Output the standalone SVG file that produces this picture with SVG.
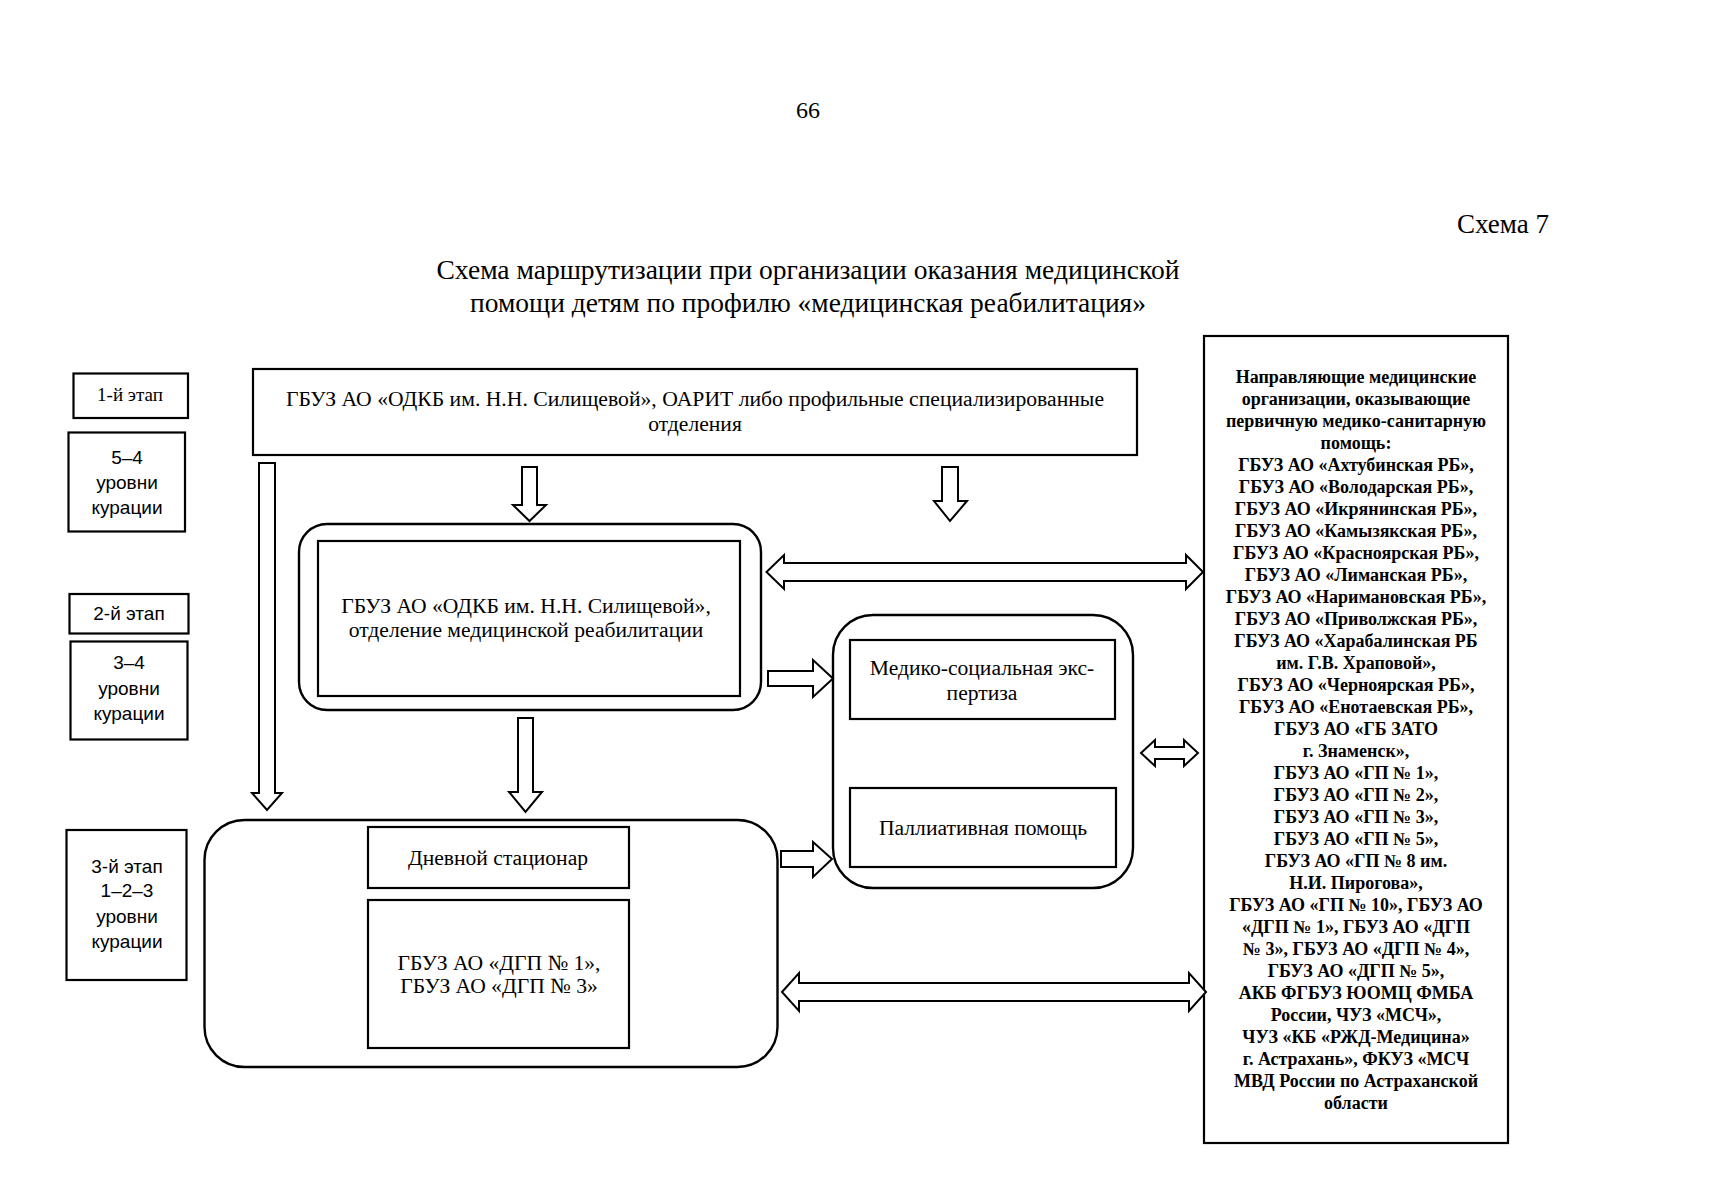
<svg xmlns="http://www.w3.org/2000/svg" width="1712" height="1200" viewBox="0 0 1712 1200">
<style>
.bg{fill:#ffffff}
.box{fill:#ffffff;stroke:#000;stroke-width:2.2}
.rbox{fill:none;stroke:#000;stroke-width:2.4}
.arr{fill:#ffffff;stroke:#000;stroke-width:2;stroke-linejoin:miter}
.t{font-family:"Liberation Serif","Times New Roman",serif;fill:#000;text-anchor:middle}
.s{font-family:"Liberation Sans",Arial,sans-serif;fill:#000;text-anchor:middle}
.r{font-size:21.6px}
.b{font-weight:bold;font-size:18px}
</style>
<rect class="bg" x="0" y="0" width="1712" height="1200"/>
<g id="header">
<text class="t" x="808" y="118" font-size="24">66</text>
<text class="t" x="1503" y="233" font-size="27">Схема 7</text>
<text class="t" x="808" y="279" font-size="27" textLength="743" lengthAdjust="spacingAndGlyphs">Схема маршрутизации при организации оказания медицинской</text>
<text class="t" x="808" y="312" font-size="27" textLength="676" lengthAdjust="spacingAndGlyphs">помощи детям по профилю «медицинская реабилитация»</text>
</g>
<g id="stage1">
<rect class="box" x="73.5" y="373.5" width="114.5" height="44.5"/>
<text class="t" x="130" y="401" font-size="19">1-й этап</text>
</g>
<g id="levels54">
<rect class="box" x="68.5" y="432.5" width="116.5" height="99"/>
<text class="s" x="127" y="464" font-size="19">5–4</text>
<text class="s" x="127" y="489" font-size="19">уровни</text>
<text class="s" x="127" y="514" font-size="19">курации</text>
</g>
<g id="stage2">
<rect class="box" x="69.5" y="594" width="119" height="39.5"/>
<text class="s" x="129" y="620" font-size="19">2-й этап</text>
</g>
<g id="levels34">
<rect class="box" x="70.5" y="641.5" width="117" height="98"/>
<text class="s" x="129" y="669" font-size="19">3–4</text>
<text class="s" x="129" y="695" font-size="19">уровни</text>
<text class="s" x="129" y="720" font-size="19">курации</text>
</g>
<g id="stage3">
<rect class="box" x="66.5" y="830" width="120" height="150"/>
<text class="s" x="127" y="873" font-size="19">3-й этап</text>
<text class="s" x="127" y="897" font-size="19">1–2–3</text>
<text class="s" x="127" y="923" font-size="19">уровни</text>
<text class="s" x="127" y="948" font-size="19">курации</text>
</g>
<g id="top-node">
<rect class="box" x="253" y="369" width="884" height="86"/>
<text class="t r" x="695" y="406" textLength="818" lengthAdjust="spacingAndGlyphs">ГБУЗ АО «ОДКБ им. Н.Н. Силищевой», ОАРИТ либо профильные специализированные</text>
<text class="t r" x="695" y="431">отделения</text>
</g>
<g id="odkb-rehab">
<rect class="rbox" x="299" y="524" width="462" height="186" rx="28" ry="28"/>
<rect class="box" x="318" y="541" width="422" height="155"/>
<text class="t r" x="526" y="613">ГБУЗ АО «ОДКБ им. Н.Н. Силищевой»,</text>
<text class="t r" x="526" y="637">отделение медицинской реабилитации</text>
</g>
<g id="mse-group">
<rect class="rbox" x="833" y="615" width="300" height="273" rx="40" ry="40"/>
<g id="mse">
<rect class="box" x="850" y="640" width="265" height="79"/>
<text class="t r" x="982" y="675">Медико-социальная экс-</text>
<text class="t r" x="982" y="700">пертиза</text>
</g>
<g id="palliative">
<rect class="box" x="850" y="788" width="266" height="79"/>
<text class="t r" x="983" y="835">Паллиативная помощь</text>
</g>
</g>
<g id="outpatient-group">
<rect class="rbox" x="204.5" y="820" width="573" height="247" rx="40" ry="40"/>
<g id="day-hospital">
<rect class="box" x="368" y="827" width="261" height="61"/>
<text class="t r" x="498" y="865">Дневной стационар</text>
</g>
<g id="dgp">
<rect class="box" x="368" y="900" width="261" height="148"/>
<text class="t r" x="499" y="970">ГБУЗ АО «ДГП № 1»,</text>
<text class="t r" x="499" y="993">ГБУЗ АО «ДГП № 3»</text>
</g>
</g>
<g id="referring-orgs">
<rect class="box" x="1204" y="336" width="304" height="807"/>
<g class="t b">
<text x="1356" y="383">Направляющие медицинские</text>
<text x="1356" y="405">организации, оказывающие</text>
<text x="1356" y="427">первичную медико-санитарную</text>
<text x="1356" y="449">помощь:</text>
<text x="1356" y="471">ГБУЗ АО «Ахтубинская РБ»,</text>
<text x="1356" y="493">ГБУЗ АО «Володарская РБ»,</text>
<text x="1356" y="515">ГБУЗ АО «Икрянинская РБ»,</text>
<text x="1356" y="537">ГБУЗ АО «Камызякская РБ»,</text>
<text x="1356" y="559">ГБУЗ АО «Красноярская РБ»,</text>
<text x="1356" y="581">ГБУЗ АО «Лиманская РБ»,</text>
<text x="1356" y="603">ГБУЗ АО «Наримановская РБ»,</text>
<text x="1356" y="625">ГБУЗ АО «Приволжская РБ»,</text>
<text x="1356" y="647">ГБУЗ АО «Харабалинская РБ</text>
<text x="1356" y="669">им. Г.В. Храповой»,</text>
<text x="1356" y="691">ГБУЗ АО «Черноярская РБ»,</text>
<text x="1356" y="713">ГБУЗ АО «Енотаевская РБ»,</text>
<text x="1356" y="735">ГБУЗ АО «ГБ ЗАТО</text>
<text x="1356" y="757">г. Знаменск»,</text>
<text x="1356" y="779">ГБУЗ АО «ГП № 1»,</text>
<text x="1356" y="801">ГБУЗ АО «ГП № 2»,</text>
<text x="1356" y="823">ГБУЗ АО «ГП № 3»,</text>
<text x="1356" y="845">ГБУЗ АО «ГП № 5»,</text>
<text x="1356" y="867">ГБУЗ АО «ГП № 8 им.</text>
<text x="1356" y="889">Н.И. Пирогова»,</text>
<text x="1356" y="911">ГБУЗ АО «ГП № 10», ГБУЗ АО</text>
<text x="1356" y="933">«ДГП № 1», ГБУЗ АО «ДГП</text>
<text x="1356" y="955">№ 3», ГБУЗ АО «ДГП № 4»,</text>
<text x="1356" y="977">ГБУЗ АО «ДГП № 5»,</text>
<text x="1356" y="999">АКБ ФГБУЗ ЮОМЦ ФМБА</text>
<text x="1356" y="1021">России, ЧУЗ «МСЧ»,</text>
<text x="1356" y="1043">ЧУЗ «КБ «РЖД-Медицина»</text>
<text x="1356" y="1065">г. Астрахань», ФКУЗ «МСЧ</text>
<text x="1356" y="1087">МВД России по Астраханской</text>
<text x="1356" y="1109">области</text>
</g>
</g>
<g id="connectors">
<path class="arr" d="M259,463 L275,463 L275,793 L282,793 L267,810 L252,793 L259,793 Z"/>
<path class="arr" d="M522,467 L537,467 L537,505 L546,505 L529.5,521 L513,505 L522,505 Z"/>
<path class="arr" d="M942,467 L958,467 L958,501 L967,501 L950,521 L934,501 L942,501 Z"/>
<path class="arr" d="M518,718 L533,718 L533,792 L542,792 L525.5,812 L509,792 L518,792 Z"/>
<path class="arr" d="M768,671 L813,671 L813,660 L833,678.5 L813,697 L813,686 L768,686 Z"/>
<path class="arr" d="M781,851 L813,851 L813,842 L832,859 L813,877 L813,867 L781,867 Z"/>
<path class="arr" d="M766.5,572 L784,555 L784,563 L1186,563 L1186,555 L1203,572 L1186,589 L1186,581 L784,581 L784,589 Z"/>
<path class="arr" d="M1141,753 L1155,740 L1155,747 L1184,747 L1184,740 L1198,753 L1184,766 L1184,759 L1155,759 L1155,766 Z"/>
<path class="arr" d="M782,992 L799,973 L799,983 L1189,983 L1189,973 L1206,992 L1189,1011 L1189,1001 L799,1001 L799,1011 Z"/>
</g>
</svg>
